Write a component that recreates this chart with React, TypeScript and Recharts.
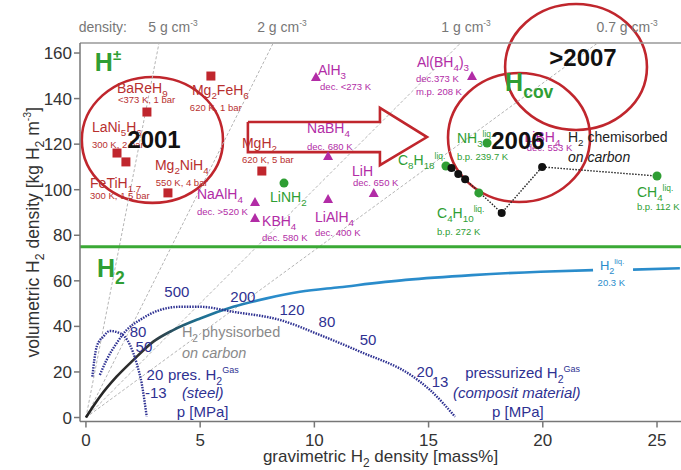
import React from "react";
import {
  ComposedChart,
  Line,
  Scatter,
  XAxis,
  YAxis,
  ReferenceLine,
  ReferenceArea,
  ReferenceDot,
} from "recharts";

const FONT = "'Liberation Sans', Arial, Helvetica, sans-serif";
const RED = "#c0262d";
const RED_TEXT = "#b8302f";
const MAGENTA = "#b22ca6";
const GREEN = "#2f9e34";
const NAVY = "#2e3192";
const BLUE = "#2a8ccb";
const AXIS = "#777";

const xDomain: [number, number] = [-0.26, 26.05];
const yDomain: [number, number] = [-1.75, 164.4];
const xTicks = [0, 5, 10, 15, 20, 25];
const yTicks = [0, 20, 40, 60, 80, 100, 120, 140, 160];

// lines of constant material density, origin -> top edge
const density5 = [{ x: 0, y: 0 }, { x: 3.2, y: 164.4 }];
const density2 = [{ x: 0, y: 0 }, { x: 8.2, y: 164.4 }];
const density1 = [{ x: 0, y: 0 }, { x: 16.4, y: 164.4 }];
const density07 = [{ x: 0, y: 0 }, { x: 22.4, y: 164.4 }];

// physisorbed on carbon -> liquid H2 (gap for the label)
const physLine = [
  { x: 0, y: 0 }, { x: 0.61, y: 9.1 }, { x: 1.34, y: 17.9 }, { x: 2.07, y: 25.2 },
  { x: 2.95, y: 33.3 }, { x: 3.82, y: 38.4 }, { x: 5.0, y: 43.5 }, { x: 6.45, y: 48.6 },
  { x: 7.91, y: 52.3 }, { x: 9.37, y: 55.2 }, { x: 11.1, y: 57.2 }, { x: 14.0, y: 60.4 },
  { x: 16.9, y: 62.5 }, { x: 19.9, y: 64.0 }, { x: 22.2, y: 64.7 },
];
const liqLine = [{ x: 23.95, y: 64.9 }, { x: 26.0, y: 65.5 }];

// pressurized H2, steel tank
const steelCurve = [
  { x: 0.28, y: 17.9 }, { x: 0.47, y: 31.1 }, { x: 0.76, y: 35.5 }, { x: 1.05, y: 38.0 },
  { x: 1.49, y: 37.0 }, { x: 1.93, y: 31.8 }, { x: 2.22, y: 23.8 }, { x: 2.44, y: 15.0 },
  { x: 2.66, y: 0.4 },
];

// pressurized H2, composite tank
const compositeCurve = [
  { x: 0.61, y: 18.7 }, { x: 0.9, y: 25.2 }, { x: 1.34, y: 32.6 }, { x: 1.78, y: 38.4 },
  { x: 2.36, y: 42.8 }, { x: 3.24, y: 47.2 }, { x: 4.12, y: 48.6 }, { x: 5.0, y: 48.6 },
  { x: 6.45, y: 46.4 }, { x: 8.5, y: 42.8 }, { x: 10.25, y: 36.2 }, { x: 12.0, y: 28.9 },
  { x: 14.33, y: 17.9 }, { x: 15.06, y: 12.1 }, { x: 16.16, y: 0.35 },
];

// H2 chemisorbed on carbon
const chemLine = [
  { x: 16.0, y: 109.5 }, { x: 16.3, y: 106.9 }, { x: 16.6, y: 104.6 },
  { x: 18.2, y: 89.8 }, { x: 19.97, y: 110.0 }, { x: 25.0, y: 106.0 },
];
const chemDots = chemLine.slice(0, 5);

// arrow outline
const arrow = [
  { x: 7.09, y: 129.7 }, { x: 12.87, y: 129.7 }, { x: 12.87, y: 135.9 }, { x: 14.93, y: 123.1 },
  { x: 12.87, y: 110.8 }, { x: 12.87, y: 116.5 }, { x: 7.09, y: 116.5 }, { x: 7.09, y: 129.7 },
];

// materials
const metalHydrides = [
  { x: 2.67, y: 134.1 }, { x: 5.47, y: 149.9 }, { x: 1.36, y: 116.1 },
  { x: 1.75, y: 112.2 }, { x: 3.59, y: 98.6 }, { x: 7.7, y: 108.2 },
];
const complexHydrides = [
  { x: 10.07, y: 149.5 }, { x: 10.6, y: 114.8 }, { x: 7.4, y: 94.6 }, { x: 7.4, y: 87.6 },
  { x: 10.6, y: 95.9 }, { x: 12.6, y: 98.5 }, { x: 16.9, y: 149.9 },
];
const covalent = [
  { x: 8.67, y: 102.9 }, { x: 17.56, y: 120.5 }, { x: 15.76, y: 110.4 },
  { x: 17.2, y: 98.6 }, { x: 25.0, y: 106.0 },
];

// circles (bounds)
const circles = [
  { x1: -0.18, x2: 6.0, y1: 94.2, y2: 149.5 },
  { x1: 15.85, x2: 22.07, y1: 94.6, y2: 151.2 },
  { x1: 18.35, x2: 24.56, y1: 126.2, y2: 181.5 },
];

// labels
const redNames = [
  { t: "BaReH{9}", x: 1.36, y: 144.6 }, { t: "Mg{2}FeH{6}", x: 4.64, y: 143.8 },
  { t: "LaNi{5}H{6}", x: 0.26, y: 127.5 }, { t: "FeTiH{1.7}", x: 0.18, y: 102.9 },
  { t: "Mg{2}NiH{4}", x: 3.02, y: 110.8 }, { t: "MgH{2}", x: 6.83, y: 120.5 },
];
const redNotes = [
  { t: "<373 K, 1 bar", x: 1.4, y: 139.4 }, { t: "620 K, 1 bar", x: 4.55, y: 135.9 },
  { t: "300 K, 2 bar", x: 0.26, y: 119.6 }, { t: "300 K, 1.5 bar", x: 0.18, y: 97.2 },
  { t: "550 K, 4 bar", x: 3.06, y: 102.9 }, { t: "620 K, 5 bar", x: 6.83, y: 113.0 },
];
const magentaNames = [
  { t: "AlH{3}", x: 10.16, y: 152.6 }, { t: "NaBH{4}", x: 9.68, y: 127.1 },
  { t: "NaAlH{4}", x: 4.86, y: 98.1 }, { t: "KBH{4}", x: 7.71, y: 86.3 },
  { t: "LiAlH{4}", x: 10.03, y: 88.0 }, { t: "LiH", x: 11.65, y: 108.2 },
  { t: "Al(BH{4}){3}", x: 14.49, y: 156.1 }, { t: "LiBH{4}", x: 19.2, y: 123.1 },
];
const magentaNotes = [
  { t: "dec. <273 K", x: 10.25, y: 145.1 }, { t: "dec. 680 K", x: 9.68, y: 118.7 },
  { t: "dec. >520 K", x: 4.86, y: 90.2 }, { t: "dec. 580 K", x: 7.71, y: 78.8 },
  { t: "dec. 400 K", x: 10.03, y: 81.0 }, { t: "dec. 650 K", x: 11.69, y: 102.9 },
  { t: "dec.373 K", x: 14.45, y: 148.6 }, { t: "m.p. 208 K", x: 14.45, y: 142.9 },
  { t: "dec. 553 K", x: 19.3, y: 118.3 },
];
const greenNames = [
  { t: "LiNH{2}", x: 8.06, y: 96.8 }, { t: "NH{3}^{liq.}", x: 16.24, y: 122.7 },
  { t: "C{8}H{18}^{liq.}", x: 13.66, y: 113.0 }, { t: "C{4}H{10}^{liq.}", x: 15.37, y: 89.8 },
  { t: "CH{4}^{liq.}", x: 24.12, y: 99.0 },
];
const greenNotes = [
  { t: "b.p. 239.7 K", x: 16.24, y: 114.4 }, { t: "b.p. 272 K", x: 15.37, y: 81.4 },
  { t: "b.p. 112 K", x: 24.12, y: 92.4 },
];
const phaseLabels = [
  { t: "H^{±}", x: 0.39, y: 156.0 }, { t: "H{2}", x: 0.48, y: 65.6 }, { t: "H{cov}", x: 18.35, y: 147.3 },
];
const years = [
  { t: "2001", x: 2.98, y: 121.8 }, { t: "2006", x: 18.91, y: 121.4 }, { t: ">2007", x: 21.76, y: 158.2 },
];
const chemText = [{ t: "H{2} chemisorbed", x: 21.1, y: 123.1 }];
const chemItalic = [{ t: "on carbon", x: 21.1, y: 114.4 }];
const physText = [{ t: "H{2} physisorbed", x: 4.2, y: 37.5 }];
const physItalic = [{ t: "on carbon", x: 4.2, y: 28.3 }];
const gasText = [
  { t: "pres. H{2}^{Gas}", x: 3.59, y: 18.7 }, { t: "p [MPa]", x: 3.98, y: 2.4 },
  { t: "pressurized H{2}^{Gas}", x: 16.6, y: 19.5 }, { t: "p [MPa]", x: 17.78, y: 2.4 },
];
const gasItalic = [
  { t: "(steel)", x: 4.2, y: 10.8 }, { t: "(composit material)", x: 16.07, y: 10.8 },
];
const compositeNums = [
  { t: "500", x: 3.98, y: 55.1 }, { t: "200", x: 6.87, y: 52.9 }, { t: "120", x: 9.02, y: 47.2 },
  { t: "80", x: 10.55, y: 41.9 }, { t: "50", x: 12.35, y: 34.0 }, { t: "20", x: 14.84, y: 20.0 },
  { t: "13", x: 15.5, y: 15.6 },
];
const steelNums = [
  { t: "80", x: 2.28, y: 37.5 }, { t: "50", x: 2.54, y: 30.9 },
  { t: "20", x: 3.02, y: 18.7 }, { t: "-13", x: 3.06, y: 10.8 },
];
const liqName = [{ t: "H{2}^{liq.}", x: 22.5, y: 66.9 }];
const liqNote = [{ t: "20.3 K", x: 22.4, y: 59.0 }];
const densityLabels = [
  { t: "density:", x: 0.74, y: 171.4 }, { t: "5 g cm^{-3}", x: 3.81, y: 171.4 },
  { t: "2 g cm^{-3}", x: 8.58, y: 171.4 }, { t: "1 g cm^{-3}", x: 16.64, y: 171.4 },
  { t: "0.7 g cm^{-3}", x: 23.69, y: 171.4 },
];

// "{..}" = subscript, "^{..}" = superscript
function parse(s: string) {
  const parts: { t: string; k: string }[] = [];
  let buf = "";
  let i = 0;
  while (i < s.length) {
    const sup = s[i] === "^" && s[i + 1] === "{";
    if (sup || s[i] === "{") {
      if (buf) parts.push({ t: buf, k: "n" });
      buf = "";
      const start = sup ? i + 2 : i + 1;
      const end = s.indexOf("}", start);
      parts.push({ t: s.slice(start, end), k: sup ? "sup" : "sub" });
      i = end + 1;
    } else {
      buf += s[i];
      i++;
    }
  }
  if (buf) parts.push({ t: buf, k: "n" });
  return parts;
}

function Formula({ x, y, text, size, color, anchor = "start", italic, bold }: any) {
  let shift = 0;
  const spans = parse(text).map((p, i) => {
    const target = p.k === "sub" ? 0.3 * size : p.k === "sup" ? -0.45 * size : 0;
    const dy = target - shift;
    shift = target;
    const fs = p.k === "n" ? size : p.k === "sub" ? size * 0.7 : size * 0.6;
    return (
      <tspan key={i} dy={dy} fontSize={fs}>
        {p.t}
      </tspan>
    );
  });
  return (
    <text
      x={x}
      y={y + size * 0.35}
      fill={color}
      fontSize={size}
      fontFamily={FONT}
      textAnchor={anchor}
      fontStyle={italic ? "italic" : "normal"}
      fontWeight={bold ? "bold" : "normal"}
    >
      {spans}
    </text>
  );
}

function labels(items: { t: string; x: number; y: number }[], style: any, prefix: string) {
  return items.map((it, i) => (
    <ReferenceDot
      key={prefix + i}
      x={it.x}
      y={it.y}
      r={0}
      ifOverflow="visible"
      shape={(p: any) => <Formula x={p.cx} y={p.cy} text={it.t} {...style} />}
    />
  ));
}

const square = (p: any) => <rect x={p.cx - 4.5} y={p.cy - 4.5} width={9} height={9} fill={RED} />;
const triangle = (p: any) => (
  <polygon points={`${p.cx},${p.cy - 5} ${p.cx + 5},${p.cy + 4} ${p.cx - 5},${p.cy + 4}`} fill={MAGENTA} />
);
const greenDot = (p: any) => <circle cx={p.cx} cy={p.cy} r={4.5} fill={GREEN} />;
const blackDot = (p: any) => <circle cx={p.cx} cy={p.cy} r={4} fill="#111" />;
const ellipse = (p: any) => (
  <ellipse
    cx={p.x + p.width / 2}
    cy={p.y + p.height / 2}
    rx={Math.abs(p.width) / 2}
    ry={Math.abs(p.height) / 2}
    fill="none"
    stroke={RED}
    strokeWidth={2.6}
  />
);

const densityStyle = { stroke: "#b5b5b5", strokeWidth: 1, strokeDasharray: "3 2", dot: false };
const gasStyle = { stroke: NAVY, strokeWidth: 2.4, strokeDasharray: "1.5 1.2", dot: false };

export default function App() {
  return (
    <div style={{ position: "absolute", left: 0, top: 0, background: "#fff" }}>
      <ComposedChart width={681} height={470} margin={{ top: 43, right: 0, bottom: 8.5, left: 30 }}>
        <defs>
          <linearGradient id="physGrad" x1="0" y1="0" x2="1" y2="0">
            <stop offset="0" stopColor="#222" />
            <stop offset="0.12" stopColor="#333" />
            <stop offset="0.22" stopColor="#1d6e8e" />
            <stop offset="0.36" stopColor={BLUE} />
            <stop offset="1" stopColor={BLUE} />
          </linearGradient>
        </defs>
        <XAxis
          type="number"
          dataKey="x"
          domain={xDomain}
          ticks={xTicks}
          allowDataOverflow
          height={40}
          tickMargin={6}
          stroke={AXIS}
          strokeWidth={1.5}
          tick={{ fill: "#333", fontSize: 17, fontFamily: FONT }}
          label={{
            content: (p: any) => (
              <Formula
                x={p.viewBox.x + p.viewBox.width / 2}
                y={p.viewBox.y + 34.5}
                text="gravimetric H{2} density [mass%]"
                size={17}
                color="#333"
                anchor="middle"
              />
            ),
          }}
        />
        <YAxis
          type="number"
          dataKey="y"
          domain={yDomain}
          ticks={yTicks}
          allowDataOverflow
          width={50}
          stroke={AXIS}
          strokeWidth={1.5}
          tick={{ fill: "#333", fontSize: 17, fontFamily: FONT }}
          label={{
            content: (p: any) => (
              <g transform={`translate(${p.viewBox.x + 3}, ${p.viewBox.y + p.viewBox.height / 2}) rotate(-90)`}>
                <Formula x={0} y={0} text="volumetric H{2} density [kg H{2} m^{-3}]" size={17.5} color="#333" anchor="middle" />
              </g>
            ),
          }}
        />
        <ReferenceLine y={yDomain[1]} stroke="#999" strokeWidth={1.5} />

        <Line data={density5} dataKey="y" {...densityStyle} isAnimationActive={false} />
        <Line data={density2} dataKey="y" {...densityStyle} isAnimationActive={false} />
        <Line data={density1} dataKey="y" {...densityStyle} isAnimationActive={false} />
        <Line data={density07} dataKey="y" {...densityStyle} isAnimationActive={false} />

        <ReferenceLine y={75} stroke="#3aa935" strokeWidth={3} />

        <Line data={physLine} dataKey="y" type="monotone" stroke="url(#physGrad)" strokeWidth={2.6} dot={false} isAnimationActive={false} />
        <Line data={liqLine} dataKey="y" type="monotone" stroke={BLUE} strokeWidth={2.6} dot={false} isAnimationActive={false} />
        <Line data={steelCurve} dataKey="y" type="monotone" {...gasStyle} isAnimationActive={false} />
        <Line data={compositeCurve} dataKey="y" type="monotone" {...gasStyle} isAnimationActive={false} />
        <Line data={chemLine} dataKey="y" type="linear" stroke="#222" strokeWidth={1.4} strokeDasharray="1.5 1.5" dot={false} isAnimationActive={false} />
        <Line data={arrow} dataKey="y" type="linear" stroke={RED} strokeWidth={2.6} dot={false} isAnimationActive={false} />

        <Scatter data={metalHydrides} dataKey="y" shape={square} isAnimationActive={false} />
        <Scatter data={complexHydrides} dataKey="y" shape={triangle} isAnimationActive={false} />
        <Scatter data={covalent} dataKey="y" shape={greenDot} isAnimationActive={false} />
        <Scatter data={chemDots} dataKey="y" shape={blackDot} isAnimationActive={false} />

        {circles.map((c, i) => (
          <ReferenceArea key={"c" + i} x1={c.x1} x2={c.x2} y1={c.y1} y2={c.y2} ifOverflow="visible" shape={ellipse} />
        ))}

        {labels(densityLabels, { size: 14, color: "#777", anchor: "middle" }, "d")}
        {labels(redNames, { size: 14, color: RED_TEXT }, "rn")}
        {labels(redNotes, { size: 9.5, color: RED_TEXT }, "rt")}
        {labels(magentaNames, { size: 14, color: MAGENTA }, "mn")}
        {labels(magentaNotes, { size: 9.5, color: MAGENTA }, "mt")}
        {labels(greenNames, { size: 14, color: GREEN }, "gn")}
        {labels(greenNotes, { size: 9.5, color: GREEN }, "gt")}
        {labels(phaseLabels, { size: 25, color: GREEN, bold: true }, "ph")}
        {labels(chemText, { size: 14, color: "#222" }, "ct")}
        {labels(chemItalic, { size: 14, color: "#222", italic: true }, "ci")}
        {labels(physText, { size: 14.5, color: "#8a8a8a" }, "pt")}
        {labels(physItalic, { size: 14.5, color: "#8a8a8a", italic: true }, "pi")}
        {labels(gasText, { size: 15, color: NAVY }, "gs")}
        {labels(gasItalic, { size: 15, color: NAVY, italic: true }, "gi")}
        {labels(compositeNums, { size: 15, color: NAVY, anchor: "middle" }, "cn")}
        {labels(steelNums, { size: 15, color: NAVY, anchor: "middle" }, "sn")}
        {labels(liqName, { size: 13, color: BLUE }, "ln")}
        {labels(liqNote, { size: 9.5, color: BLUE }, "lt")}
        {labels(years, { size: 24, color: "#111", anchor: "middle", bold: true }, "y")}
      </ComposedChart>
    </div>
  );
}
